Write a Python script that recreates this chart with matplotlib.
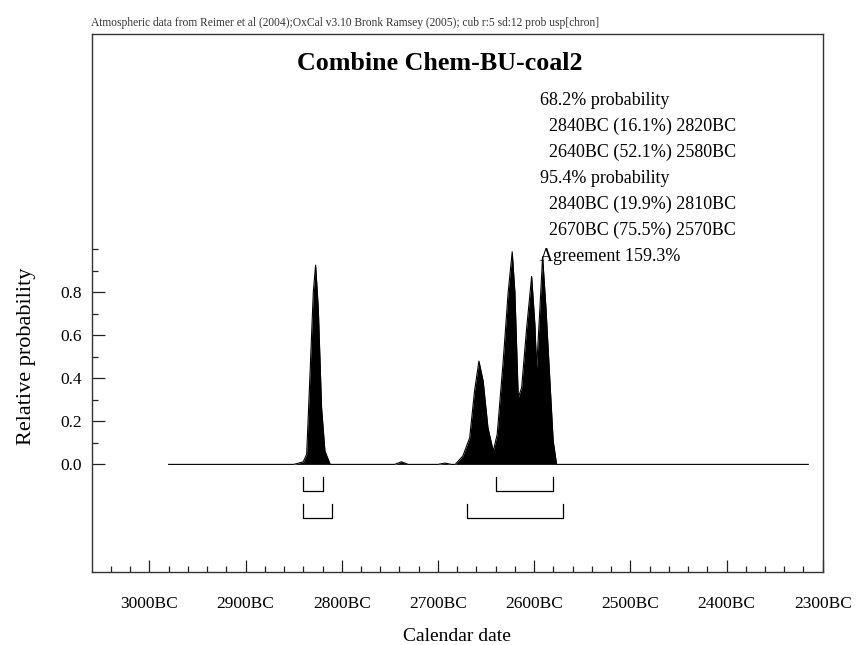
import matplotlib
matplotlib.use("Agg")
import matplotlib.pyplot as plt
import numpy as np
from matplotlib.ticker import FixedLocator, FuncFormatter

plt.rcParams['font.family'] = ['Liberation Serif', 'DejaVu Serif']

# данные кривой (годы до н.э. и относительная вероятность)
dates_bc = [2980, 2850, 2843, 2840, 2836.5, 2833, 2829.6, 2827.2, 2824.4, 2821, 2817.5, 2812,
            2745, 2738, 2731, 2700, 2693, 2686,
            2682, 2674, 2667, 2662, 2657.4, 2653, 2648, 2642.5, 2638.4, 2632, 2627, 2622.8,
            2620, 2616.5, 2613, 2607.8, 2602.6, 2599.2, 2597.4, 2594, 2591.2, 2587.7, 2583.6,
            2580.2, 2576.6, 2315]
prob = [0, 0, 0.008, 0.012, 0.047, 0.42, 0.80, 0.926, 0.726, 0.263, 0.062, 0,
        0, 0.012, 0, 0, 0.006, 0,
        0, 0.04, 0.124, 0.34, 0.48, 0.387, 0.17, 0.062, 0.14, 0.49, 0.80, 0.988,
        0.80, 0.31, 0.356, 0.633, 0.873, 0.649, 0.448, 0.726, 0.965, 0.726, 0.387,
        0.109, 0, 0]

# интервалы (от, до) в годах до н.э.
ranges_68 = [(2840, 2820), (2640, 2580)]
ranges_95 = [(2840, 2810), (2670, 2570)]

title = "Combine Chem-BU-coal2"
info_lines = ["68.2% probability",
              "  2840BC (16.1%) 2820BC",
              "  2640BC (52.1%) 2580BC",
              "95.4% probability",
              "  2840BC (19.9%) 2810BC",
              "  2670BC (75.5%) 2570BC",
              "Agreement 159.3%"]
header = ("Atmospheric data from Reimer et al (2004);OxCal v3.10 Bronk Ramsey (2005); "
          "cub r:5 sd:12 prob usp[chron]")

fig = plt.figure(figsize=(8.56, 6.45), dpi=100)
ax = fig.add_axes([0.1071, 0.1132, 0.854, 0.8341])

x = -np.array(dates_bc, dtype=float)
ax.fill_between(x, prob, 0, color='black', linewidth=0)
ax.plot(x, prob, color='black', linewidth=0.8)

# скобки диапазонов
for (a, b) in ranges_68:
    ax.plot([-a, -a, -b, -b], [-0.06, -0.124, -0.124, -0.06], color='black', linewidth=0.9)
for (a, b) in ranges_95:
    ax.plot([-a, -a, -b, -b], [-0.185, -0.247, -0.247, -0.185], color='black', linewidth=0.9)

ax.set_xlim(-3060, -2300)
ax.set_ylim(-0.5, 2.0)

ax.xaxis.set_major_locator(FixedLocator(np.arange(-3000, -2299, 100)))
ax.xaxis.set_minor_locator(FixedLocator(np.arange(-3040, -2299, 20)))
ax.xaxis.set_major_formatter(FuncFormatter(lambda v, p: "%dBC" % round(-v)))
ax.yaxis.set_major_locator(FixedLocator([0.0, 0.2, 0.4, 0.6, 0.8]))
ax.yaxis.set_minor_locator(FixedLocator([0.1, 0.3, 0.5, 0.7, 0.9, 1.0]))
ax.yaxis.set_major_formatter(FuncFormatter(lambda v, p: "%.1f" % v))

ax.tick_params(axis='both', which='both', direction='in', top=False, right=False,
               colors='#222222', labelcolor='black', labelsize=12.5)
ax.tick_params(axis='both', which='major', length=9, width=0.9)
ax.tick_params(axis='both', which='minor', length=4.5, width=0.9)
ax.tick_params(axis='x', which='major', pad=17)
ax.tick_params(axis='y', which='major', pad=7)

for s in ax.spines.values():
    s.set_color('#333333')
    s.set_linewidth(1.0)

ax.set_xlabel("Calendar date", fontsize=14, labelpad=12)
ax.set_ylabel("Relative probability", fontsize=16)
ax.yaxis.set_label_coords(-0.076, 0.40)

ax.text(0.4765, 0.946, title, transform=ax.transAxes, ha='center', va='center',
        fontsize=18.7, fontweight='bold')

info_y = [1.69, 1.569, 1.449, 1.329, 1.208, 1.088, 0.968]
for line, yy in zip(info_lines, info_y):
    ax.text(-2594, yy, line, ha='left', va='center', fontsize=13)

fig.text(0.106, 0.965, header, ha='left', va='center', fontsize=8.3, color='#333333')

fig.savefig("out.png", dpi=100)
